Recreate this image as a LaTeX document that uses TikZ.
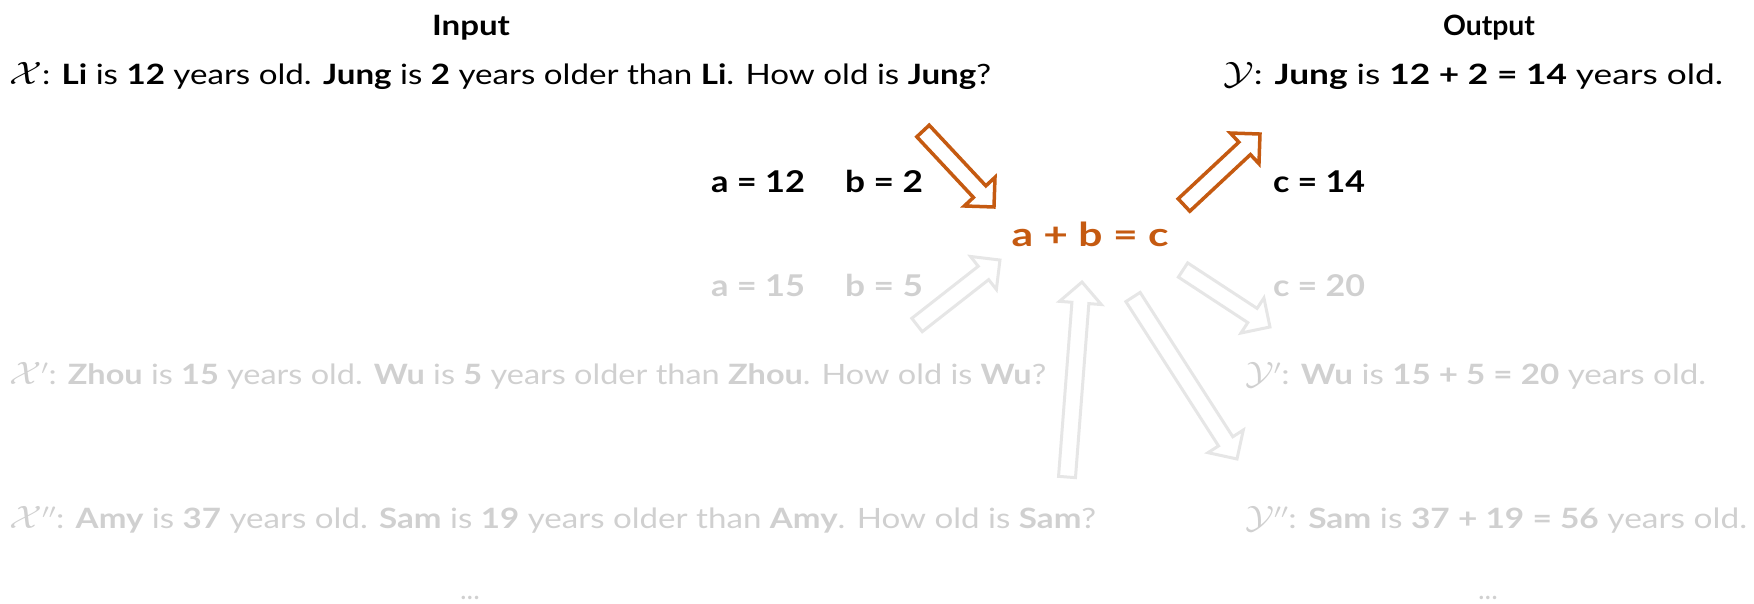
\documentclass[tikz,border=0pt]{standalone}
\usepackage{fontspec}
\setmainfont{Lato}
\usepackage{graphicx}
\definecolor{orng}{HTML}{C55A11}
\definecolor{gtxt}{HTML}{D0D0D0}
\definecolor{garr}{HTML}{E6E6E6}
\newcommand\fitw[2]{\resizebox{#1}{\height}{#2}}
\newcommand\cx[1]{\scalebox{1.3}{$\mathcal{#1}$}}
\newcommand\bsw{8.5}
\newcommand\bhw{21}
\newcommand\bhl{21}
\newcommand\blockarrow[5]{%
  \pgfmathsetmacro\baang{atan2(-(#5-#3),#4-#2)}%
  \pgfmathsetmacro\balen{veclen(#4-#2,#5-#3)}%
  \begin{scope}[shift={(#2,#3)},rotate=\baang]
    \draw[#1] (0,-\bsw) -- ({\balen-\bhl},-\bsw) -- ({\balen-\bhl},-\bhw) -- (\balen,0)
      -- ({\balen-\bhl},\bhw) -- ({\balen-\bhl},\bsw) -- (0,\bsw) -- cycle;
  \end{scope}}
\begin{document}
\begin{tikzpicture}[x=1pt,y=-1pt,
  txt/.style={inner sep=0pt, anchor=base west, font=\fontsize{28}{34}\selectfont},
  ttl/.style={inner sep=0pt, anchor=base, font=\fontsize{28}{34}\selectfont\bfseries},
  lbl/.style={inner sep=0pt, anchor=base, font=\fontsize{30}{36}\selectfont\bfseries},
  eqn/.style={inner sep=0pt, anchor=base, font=\fontsize{33}{40}\selectfont\bfseries, text=orng},
  dots/.style={inner sep=0pt, anchor=base, font=\fontsize{28}{34}\selectfont, text=gtxt},
  oarr/.style={draw=orng, line width=3.5pt, fill=white, line join=miter},
  garrow/.style={draw=garr, line width=3pt, fill=white, line join=miter}]
\useasboundingbox (0,0) rectangle (1754,603);
% titles
\node[ttl] (input) at (471,35) {\fitw{78pt}{Input}};
\node[ttl] (output) at (1489,35) {\fitw{92pt}{Output}};
% main lines
\node[txt] (x) at (9,84) {\fitw{982pt}{\cx{X}: \textbf{Li} is \textbf{12} years old. \textbf{Jung} is \textbf{2} years older than \textbf{Li}. How old is \textbf{Jung}?}};
\node[txt] (y) at (1223,84) {\fitw{500pt}{\cx{Y}: \textbf{Jung} is \textbf{12 + 2 = 14} years old.}};
\node[txt, text=gtxt] (x1) at (9,384) {\fitw{1037pt}{\cx{X}$'$: \textbf{Zhou} is \textbf{15} years old. \textbf{Wu} is \textbf{5} years older than \textbf{Zhou}. How old is \textbf{Wu}?}};
\node[txt, text=gtxt] (y1) at (1245,384) {\fitw{461pt}{\cx{Y}$'$: \textbf{Wu} is \textbf{15 + 5 = 20} years old.}};
\node[txt, text=gtxt] (x2) at (9,528) {\fitw{1087pt}{\cx{X}$''$: \textbf{Amy} is \textbf{37} years old. \textbf{Sam} is \textbf{19} years older than \textbf{Amy}. How old is \textbf{Sam}?}};
\node[txt, text=gtxt] (y2) at (1245,528) {\fitw{502pt}{\cx{Y}$''$: \textbf{Sam} is \textbf{37 + 19 = 56} years old.}};
\node[dots] (d1) at (470,599) {...};
\node[dots] (d2) at (1488,599) {...};
% variable labels
\node[lbl] (a1) at (758,192) {\fitw{94pt}{a = 12}};
\node[lbl] (b1) at (884,192) {\fitw{78pt}{b = 2}};
\node[lbl] (c1) at (1319,192) {\fitw{92pt}{c = 14}};
\node[lbl, text=gtxt] (a2) at (758,296) {\fitw{94pt}{a = 15}};
\node[lbl, text=gtxt] (b2) at (884,296) {\fitw{78pt}{b = 5}};
\node[lbl, text=gtxt] (c2) at (1319,296) {\fitw{92pt}{c = 20}};
\node[eqn] (eq) at (1090,246) {\fitw{157pt}{a + b = c}};
% block arrows
\blockarrow{oarr}{923}{131}{994}{207}
\blockarrow{oarr}{1184}{205}{1260}{134}
\blockarrow{garrow}{917}{325}{1000}{260}
\blockarrow{garrow}{1067}{477}{1082}{282}
\blockarrow{garrow}{1133}{297}{1237}{459}
\blockarrow{garrow}{1183}{270}{1270}{327}
\end{tikzpicture}
\end{document}
